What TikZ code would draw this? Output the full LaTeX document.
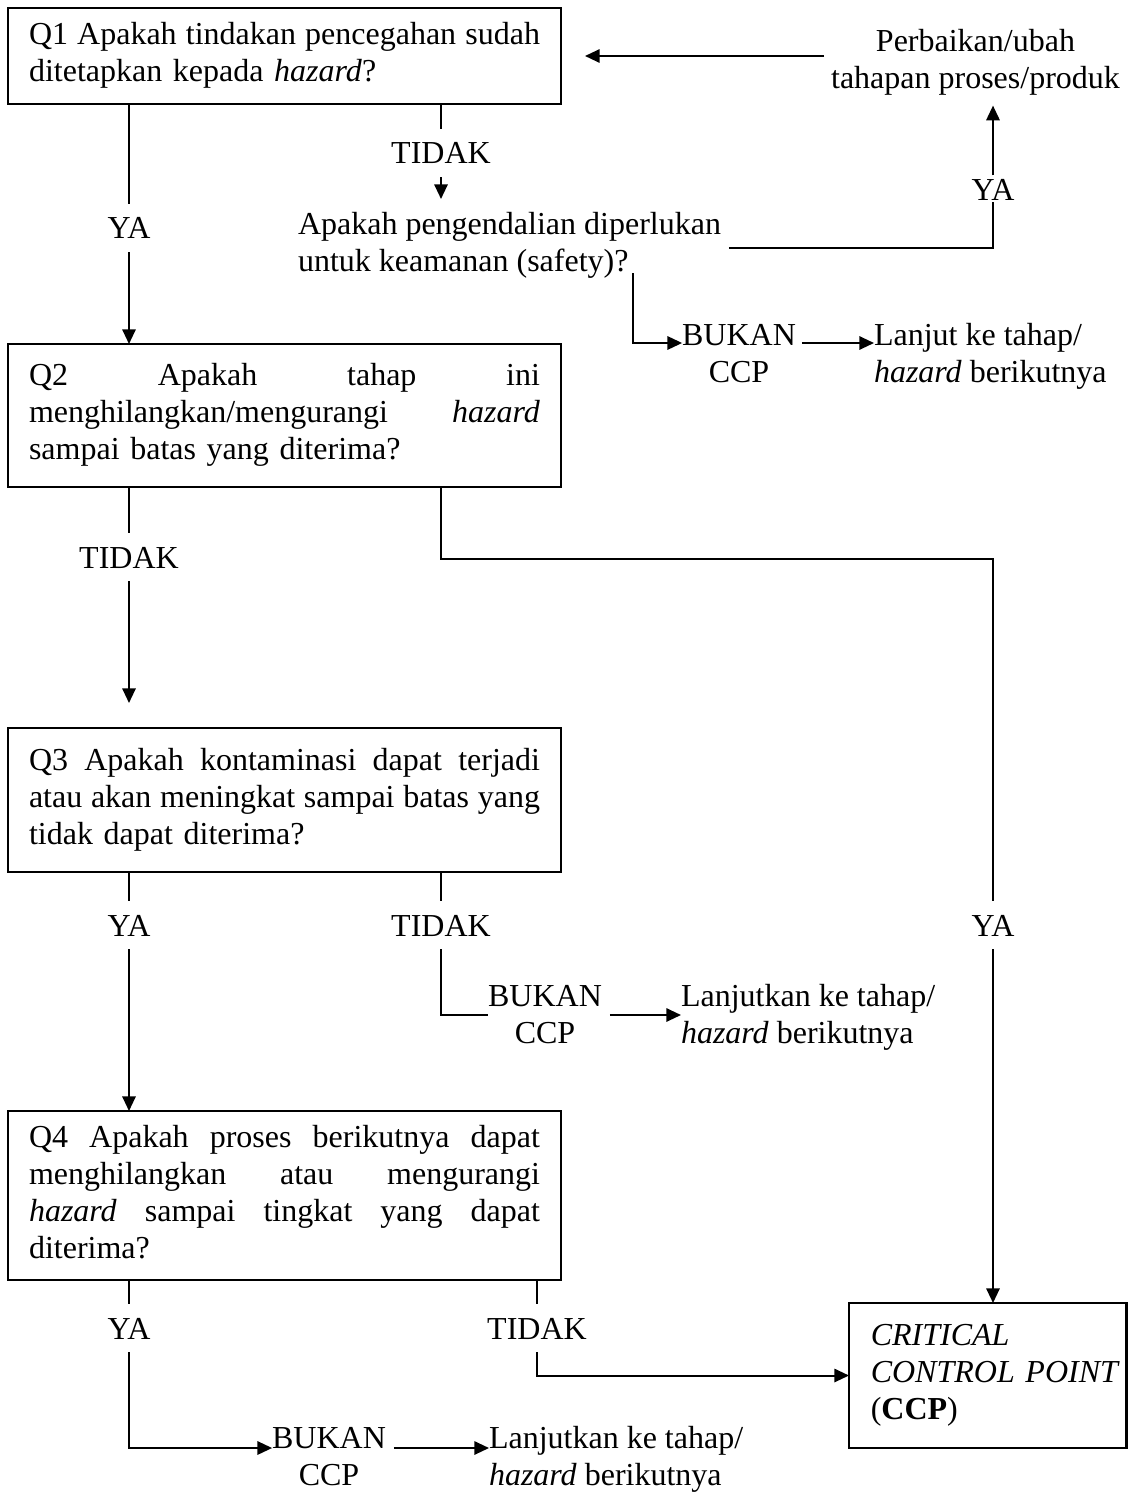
\documentclass[tikz,border=0pt]{standalone}
\usepackage{fontspec}
\setmainfont{Liberation Serif}
\usetikzlibrary{arrows.meta,calc}
\newcommand{\jl}[1]{\leavevmode\hbox to 191.625pt{#1}}
\newcommand{\sj}{\hskip 0.25em plus 1fil minus 0.08em\relax}
\begin{document}
\begin{tikzpicture}[x=0.375pt,y=-0.375pt,
  font=\fontsize{12}{13.875}\selectfont,
  every node/.style={inner sep=0pt, outer sep=0pt},
  qbox/.style={draw, line width=0.9pt, minimum width=207.375pt, text width=191.625pt, align=left},
  ccpbox/.style={draw, line width=0.9pt, minimum width=104.06pt, minimum height=54.375pt, text width=87.75pt, align=left},
  lbl/.style={anchor=base, text height=13pt, text depth=5pt},
  lbltop/.style={anchor=base, text height=9.6pt, text depth=0.5pt},
  txtc/.style={align=center},
  txtl/.style={align=left, anchor=west},
  ln/.style={line width=0.75pt},
  arr/.style={ln, -{Triangle[length=5.5pt,width=5pt]}}
]
\useasboundingbox (0,0) rectangle (1128,1495);

% boxes
\node[qbox, minimum height=36pt] (q1) at (284.5,56)
  {\jl{\strut Q1\sj Apakah\sj tindakan\sj pencegahan\sj sudah}\\
   ditetapkan kepada \textit{hazard}?\strut};
\node[qbox, minimum height=53.625pt] (q2) at (284.5,415.5)
  {\jl{\strut Q2\sj Apakah\sj tahap\sj ini}\\
   \jl{menghilangkan/mengurangi\sj \textit{hazard}}\\
   sampai batas yang diterima?\strut};
\node[qbox, minimum height=54pt] (q3) at (284.5,800)
  {\jl{\strut Q3\sj Apakah\sj kontaminasi\sj dapat\sj terjadi}\\
   \jl{atau\sj akan\sj meningkat\sj sampai\sj batas\sj yang}\\
   tidak dapat diterima?\strut};
\node[qbox, minimum height=63.375pt] (q4) at (284.5,1195.5)
  {\jl{\strut Q4\sj Apakah\sj proses\sj berikutnya\sj dapat}\\
   \jl{menghilangkan\sj atau\sj mengurangi}\\
   \jl{\textit{hazard}\sj sampai\sj tingkat\sj yang\sj dapat}\\
   diterima?\strut};
\node[ccpbox] (ccp) at (987.75,1375.5)
  {\strut\textit{CRITICAL}\\ \mbox{\textit{CONTROL POINT}}\\ (\textbf{CCP})\strut};

% free texts
\node[txtc] (perb) at (975.5,62.6) {\strut Perbaikan/ubah\\ tahapan proses/produk\strut};
\node[txtl] (ctrl) at (298,246) {\strut Apakah pengendalian diperlukan\\ untuk keamanan (safety)?\strut};
\node[txtc] (bk1) at (739,357) {\strut BUKAN\\ CCP\strut};
\node[txtl] (ln1) at (874,357) {\strut Lanjut ke tahap/\\ \textit{hazard} berikutnya\strut};
\node[txtc] (bk2) at (545,1018) {\strut BUKAN\\ CCP\strut};
\node[txtl] (ln2) at (681,1018) {\strut Lanjutkan ke tahap/\\ \textit{hazard} berikutnya\strut};
\node[txtc] (bk3) at (329,1460) {\strut BUKAN\\ CCP\strut};
\node[txtl] (ln3) at (489,1460) {\strut Lanjutkan ke tahap/\\ \textit{hazard} berikutnya\strut};

% labels
\node[lbl] (ya1) at (129,239) {YA};
\node[lbl] (t1) at (441,164) {TIDAK};
\node[lbltop] (yaT) at (993,201) {YA};
\node[lbl] (t2) at (129,568) {TIDAK};
\node[lbl] (ya3) at (129,936) {YA};
\node[lbl] (t3) at (441,936) {TIDAK};
\node[lbl] (yaR) at (993,936) {YA};
\node[lbl] (ya4) at (129,1339) {YA};
\node[lbl] (t4) at (537,1339) {TIDAK};

\coordinate (c1) at (633,273);
\coordinate (k1) at (441,559);
\coordinate (pa) at ($(perb.west)+(-7,0)$);

% connectors Q1
\draw[arr] (pa |- q1.east) -- ($(q1.east)+(24,0)$);
\draw[ln] (ya1 |- q1.south) -- (ya1.north);
\draw[arr] (ya1.south) -- (ya1 |- q2.north);
\draw[ln] (t1 |- q1.south) -- (t1.north);
\draw[arr] (t1.south) -- ($(t1 |- ctrl.north)+(0,-10)$);
\draw[ln] ($(ctrl.east)+(8,2)$) -| (yaT.south);
\draw[arr] (yaT.north) -- ($(yaT |- perb.south)+(0,6)$);
\draw[arr] (c1) |- ($(bk1.west)+(0,-14)$);
\draw[arr] ($(bk1.east)+(6,-14)$) -- ($(ln1.west)+(0,-14)$);

% connectors Q2
\draw[ln] (t2 |- q2.south) -- (t2.north);
\draw[arr] (t2.south) -- ($(t2 |- q3.north)+(0,-25)$);
\draw[ln] (t1 |- q2.south) -- (k1) -| (yaR.north);
\draw[arr] (yaR.south) -- (yaR |- ccp.north);

% connectors Q3
\draw[ln] (ya3 |- q3.south) -- (ya3.north);
\draw[arr] (ya3.south) -- (ya3 |- q4.north);
\draw[ln] (t3 |- q3.south) -- (t3.north);
\draw[ln] (t3.south) |- ($(bk2.west)+(0,-3)$);
\draw[arr] ($(bk2.east)+(8,-3)$) -- ($(ln2.west)+(0,-3)$);

% connectors Q4
\draw[ln] (ya4 |- q4.south) -- (ya4.north);
\draw[arr] (ya4.south) |- ($(bk3.west)+(0,-12)$);
\draw[arr] ($(bk3.east)+(8,-12)$) -- ($(ln3.west)+(0,-12)$);
\draw[ln] (t4 |- q4.south) -- (t4.north);
\draw[arr] (t4.south) |- (ccp.west);
\end{tikzpicture}
\end{document}
